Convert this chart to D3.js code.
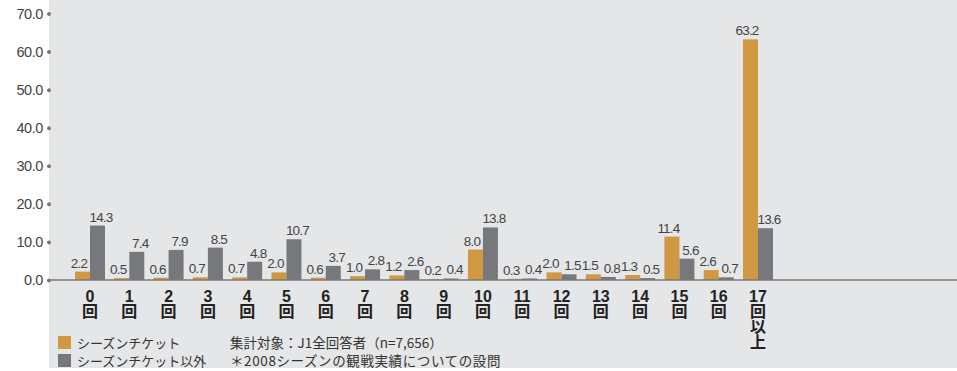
<!DOCTYPE html>
<html>
<head>
<meta charset="utf-8">
<script src="https://cdn.jsdelivr.net/npm/d3@7"></script>
<style>
  html, body { margin: 0; padding: 0; background: #fff; }
  svg { display: block; }
  text { font-family: "Liberation Sans", "Noto Sans CJK JP", sans-serif; }
  text.jp { font-family: "Noto Sans CJK JP", "Liberation Sans", sans-serif; }
</style>
</head>
<body>
<svg id="chart" width="957" height="371"></svg>
<script>
// ---- data ----
const categories = ["0","1","2","3","4","5","6","7","8","9","10","11","12","13","14","15","16","17"];
const categorySuffix = ["回","回","回","回","回","回","回","回","回","回","回","回","回","回","回","回","回","回以上"];
const seriesNames = ["シーズンチケット", "シーズンチケット以外"];
const seasonTicket = [2.2,0.5,0.6,0.7,0.7,2.0,0.6,1.0,1.2,0.2,8.0,0.3,2.0,1.5,1.3,11.4,2.6,63.2];
const otherTicket  = [14.3,7.4,7.9,8.5,4.8,10.7,3.7,2.8,2.6,0.4,13.8,0.4,1.5,0.8,0.5,5.6,0.7,13.6];
const yTicks = [0,10,20,30,40,50,60,70];
const noteLines = ["集計対象：J1全回答者（n=7,656）", "＊2008シーズンの観戦実績についての設問"];

const colors = ["#cf9841", "#77787c"];

const svg = d3.select("#chart");
const W = 957, H = 371;

// background panel
svg.append("rect").attr("x", 49).attr("y", 0).attr("width", W - 49).attr("height", 368).attr("fill", "#e5e6e8");

const y = d3.scaleLinear().domain([0, 70]).range([280, 13.5]);
const x0 = d3.scaleBand().domain(categories).range([70.35, 777.65]).paddingInner(0.237).paddingOuter(0.1185);
const x1 = d3.scaleBand().domain([0, 1]).range([0, x0.bandwidth()]);

// y axis
const yAxis = d3.axisLeft(y).tickValues(yTicks).tickFormat(d3.format(".1f")).tickSize(0).tickPadding(6);
const gy = svg.append("g").attr("transform", "translate(49,0)").call(yAxis);
gy.select(".domain").remove();
gy.selectAll(".tick text").attr("fill", "#444").attr("font-size", "14.5px").attr("letter-spacing", "-0.4px");
gy.selectAll(".tick").append("circle").attr("r", 2).attr("fill", "#777");

// bars
const rows = categories.map((c, i) => ({ c, vals: [seasonTicket[i], otherTicket[i]] }));
const groups = svg.append("g").selectAll("g").data(rows).join("g")
  .attr("transform", d => `translate(${x0(d.c)},0)`);
groups.selectAll("rect").data(d => d.vals.map((v, k) => ({ v, k }))).join("rect")
  .attr("x", d => x1(d.k)).attr("width", x1.bandwidth())
  .attr("y", d => y(d.v)).attr("height", d => y(0) - y(d.v))
  .attr("fill", d => colors[d.k]);

// value labels
const labelShift = [-3.5, 3.5];
groups.selectAll("text.val").data(d => d.vals.map((v, k) => ({ v, k }))).join("text")
  .attr("class", "val")
  .attr("x", d => x1(d.k) + x1.bandwidth() / 2 + labelShift[d.k])
  .attr("y", d => y(d.v) - 4)
  .attr("text-anchor", "middle")
  .attr("font-size", "13.5px").attr("letter-spacing", "-0.8px")
  .attr("fill", "#444")
  .text(d => d.v.toFixed(1));

// baseline
svg.append("line").attr("x1", 49).attr("x2", W).attr("y1", y(0)).attr("y2", y(0))
  .attr("stroke", "#7a7a7a").attr("stroke-width", 1.5);

// x axis (category labels)
const xAxis = d3.axisBottom(x0).tickSize(0).tickPadding(0).tickFormat(d => d);
const gx = svg.append("g").attr("transform", `translate(0,${y(0)})`).call(xAxis);
gx.select(".domain").remove();
gx.selectAll(".tick").each(function(d, i) {
  const g = d3.select(this);
  g.select("text").attr("y", 22).attr("dy", null).attr("fill", "#222").attr("font-weight", "bold")
    .attr("font-size", "16px");
  categorySuffix[i].split("").forEach((ch, j) => {
    g.append("text").attr("class", "jp").attr("x", 0).attr("y", 37 + j * 15.5)
      .attr("text-anchor", "middle").attr("fill", "#222").attr("font-weight", "bold")
      .attr("font-size", "16px").text(ch);
  });
});

// legend
const leg = svg.append("g");
seriesNames.forEach((name, i) => {
  leg.append("rect").attr("x", 58).attr("y", 336 + i * 18).attr("width", 13).attr("height", 13).attr("fill", colors[i]);
  leg.append("text").attr("class", "jp").attr("x", 77).attr("y", 347.5 + i * 18)
    .attr("font-size", "13px").attr("fill", "#333").text(name);
});
noteLines.forEach((s, i) => {
  leg.append("text").attr("class", "jp").attr("x", 230).attr("y", 347.5 + i * 18)
    .attr("font-size", "13.5px").attr("letter-spacing", i === 1 ? "0.6px" : "0px")
    .attr("fill", "#333").text(s);
});
</script>
</body>
</html>
